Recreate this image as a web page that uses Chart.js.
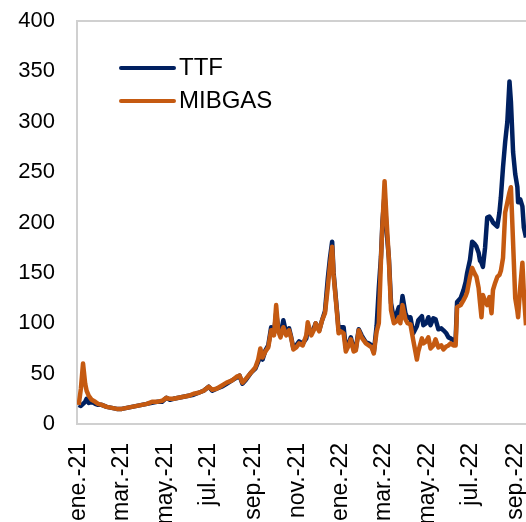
<!DOCTYPE html>
<html>
<head>
<meta charset="utf-8">
<script src="https://cdn.jsdelivr.net/npm/chart.js@4"></script>
<style>
  html, body { margin: 0; padding: 0; background: #fff; }
  #wrap { width: 526px; height: 522px; position: relative; overflow: hidden; }
</style>
</head>
<body>
<div id="wrap"><canvas id="gas"></canvas></div>
<script>
// days counted from 1 Jan 2021
const days = [1, 4, 7, 10, 12, 15, 19, 24, 28, 33, 40, 47, 54, 61, 68, 75, 82, 89, 96, 103,
  110, 117, 123, 128, 133, 140, 147, 154, 161, 168, 175, 182, 187, 193, 200, 207, 214, 221, 225, 229,
  234, 241, 247, 251, 254, 257, 261, 265, 269, 273, 276, 279, 282, 286, 290, 294, 297, 300, 304, 308,
  313, 318, 320, 325, 329, 331, 336, 340, 344, 348, 351, 354, 356, 361, 363, 366, 370, 373, 377, 380,
  384, 387, 391, 395, 401, 405, 409, 412, 416, 419, 422, 424, 427, 430, 433, 436, 440, 444, 447, 449,
  452, 456, 459, 463, 467, 472, 474, 479, 481, 485, 488, 491, 495, 498, 502, 506, 509, 513, 516, 519,
  523, 526, 528, 533, 537, 540, 542, 546, 549, 552, 555, 558, 560, 562, 564, 567, 570, 573, 576, 578,
  581, 584, 587, 589, 592, 595, 598, 601, 603, 606, 609, 612, 613, 616, 619, 621, 624];

const ttf = [19, 18, 20, 22, 25, 21, 22, 20, 19, 19, 17, 16, 15, 15, 16, 17, 18, 19, 20, 21,
  22, 22, 26, 24, 25, 26, 27, 28, 29, 31, 33, 37, 33, 35, 37, 40, 43, 46, 48, 40,
  44, 51, 55, 62, 67, 64, 73, 78, 96, 90, 110, 95, 88, 103, 90, 95, 86, 75, 78, 82,
  80, 85, 95, 90, 96, 100, 93, 103, 112, 145, 165, 181, 150, 110, 93, 96, 96, 76, 80, 86,
  74, 75, 94, 88, 81, 80, 78, 71, 98, 135, 166, 200, 228, 190, 165, 120, 104, 110, 116, 108,
  127, 110, 105, 106, 90, 97, 103, 107, 98, 100, 106, 98, 105, 104, 94, 95, 93, 90, 86, 85,
  83, 84, 121, 125, 133, 141, 150, 163, 181, 179, 176, 170, 162, 160, 156, 175, 205, 206, 203, 200,
  198, 196, 210, 225, 255, 280, 300, 340, 320, 270, 248, 235, 220, 223, 216, 195, 185];

const mibgas = [19, 35, 60, 40, 33, 28, 24, 22, 20, 19, 17, 16, 15, 15, 16, 17, 18, 19, 20, 22,
  22, 23, 26, 25, 25, 26, 27, 28, 30, 31, 33, 37, 34, 35, 38, 41, 43, 47, 48, 41,
  45, 51, 56, 64, 75, 66, 72, 76, 93, 88, 118, 92, 86, 96, 88, 93, 85, 74, 76, 80,
  78, 88, 101, 88, 94, 100, 92, 103, 110, 136, 158, 176, 148, 108, 90, 92, 90, 72, 78, 84,
  72, 73, 93, 86, 80, 78, 76, 70, 92, 100, 163, 197, 241, 200, 163, 113, 100, 102, 106, 100,
  118, 104, 100, 99, 83, 64, 72, 85, 80, 82, 86, 75, 78, 84, 76, 78, 74, 77, 78, 80,
  78, 78, 116, 118, 123, 127, 131, 146, 155, 150, 146, 135, 120, 106, 128, 122, 118, 126, 110, 133,
  140, 146, 148, 152, 165, 210, 220, 230, 235, 180, 125, 112, 106, 136, 160, 130, 98];

const tickDays = [0, 59, 120, 181, 243, 304, 365, 424, 485, 546, 608];
const tickLabels = ['ene.-21', 'mar.-21', 'may.-21', 'jul.-21', 'sep.-21', 'nov.-21',
  'ene.-22', 'mar.-22', 'may.-22', 'jul.-22', 'sep.-22'];
const yTicks = [0, 50, 100, 150, 200, 250, 300, 350, 400];

const FONT = "'Liberation Sans', Arial, sans-serif";

// plot frame (left, top, bottom) + legend inside the plot
const framePlugin = {
  id: 'frame',
  beforeDatasetsDraw(chart) {
    const { ctx, chartArea: a } = chart;
    ctx.save();
    ctx.strokeStyle = '#d0d0d0';
    ctx.lineWidth = 2;
    ctx.beginPath();
    ctx.moveTo(chart.width, a.top);
    ctx.lineTo(a.left, a.top);
    ctx.lineTo(a.left, a.bottom);
    ctx.lineTo(chart.width, a.bottom);
    ctx.stroke();
    ctx.restore();
  },
  afterDraw(chart) {
    const { ctx, chartArea: a } = chart;
    const sets = chart.data.datasets.slice().sort((p, q) => p.legendPos - q.legendPos);
    ctx.save();
    ctx.font = '24px ' + FONT;
    ctx.textBaseline = 'middle';
    sets.forEach((ds, i) => {
      const y = a.top + 47 + i * 33;
      ctx.strokeStyle = ds.borderColor;
      ctx.lineWidth = 4;
      ctx.lineCap = 'round';
      ctx.beginPath();
      ctx.moveTo(a.left + 44, y);
      ctx.lineTo(a.left + 97, y);
      ctx.stroke();
      ctx.fillStyle = '#000';
      ctx.fillText(ds.label, a.left + 102, y);
    });
    ctx.restore();
  }
};

const toPoints = vals => vals.map((v, i) => ({ x: days[i], y: v }));

// drop the label-overflow padding chart.js adds, so the plot box is exactly where we want it
function noOverflow(scale) {
  scale.paddingLeft = 0;
  scale.paddingRight = 0;
  scale.paddingTop = 0;
  scale.paddingBottom = 0;
}

new Chart(document.getElementById('gas'), {
  type: 'line',
  data: {
    datasets: [
      {
        label: 'TTF',
        data: toPoints(ttf),
        borderColor: '#002060',
        borderWidth: 4.5,
        pointRadius: 0,
        tension: 0,
        borderJoinStyle: 'round',
        order: 1,
        legendPos: 0
      },
      {
        label: 'MIBGAS',
        data: toPoints(mibgas),
        borderColor: '#C55A11',
        borderWidth: 4.5,
        pointRadius: 0,
        tension: 0,
        borderJoinStyle: 'round',
        order: 0,
        legendPos: 1
      }
    ]
  },
  plugins: [framePlugin],
  options: {
    responsive: true,
    maintainAspectRatio: false,
    animation: false,
    devicePixelRatio: 1,
    layout: { padding: { top: 21, right: 0, left: 0, bottom: 0 } },
    plugins: {
      legend: { display: false },
      tooltip: { enabled: false }
    },
    scales: {
      x: {
        type: 'linear',
        min: -1.4,
        max: 624,
        grid: { display: false, drawTicks: false },
        border: { display: false },
        afterBuildTicks: scale => { scale.ticks = tickDays.map(v => ({ value: v })); },
        afterFit: scale => { scale.height = 98; noOverflow(scale); },
        ticks: {
          autoSkip: false,
          minRotation: 90,
          maxRotation: 90,
          padding: 19,
          labelOffset: 1,
          color: '#000',
          font: { family: FONT, size: 23 },
          callback: (v) => tickLabels[tickDays.indexOf(v)]
        }
      },
      y: {
        min: 0,
        max: 400,
        grid: { display: false, drawTicks: false },
        border: { display: false },
        afterBuildTicks: scale => { scale.ticks = yTicks.map(v => ({ value: v })); },
        afterFit: scale => { scale.width = 77; noOverflow(scale); },
        ticks: {
          padding: 22,
          color: '#000',
          font: { family: FONT, size: 22 }
        }
      }
    }
  }
});
</script>
</body>
</html>
